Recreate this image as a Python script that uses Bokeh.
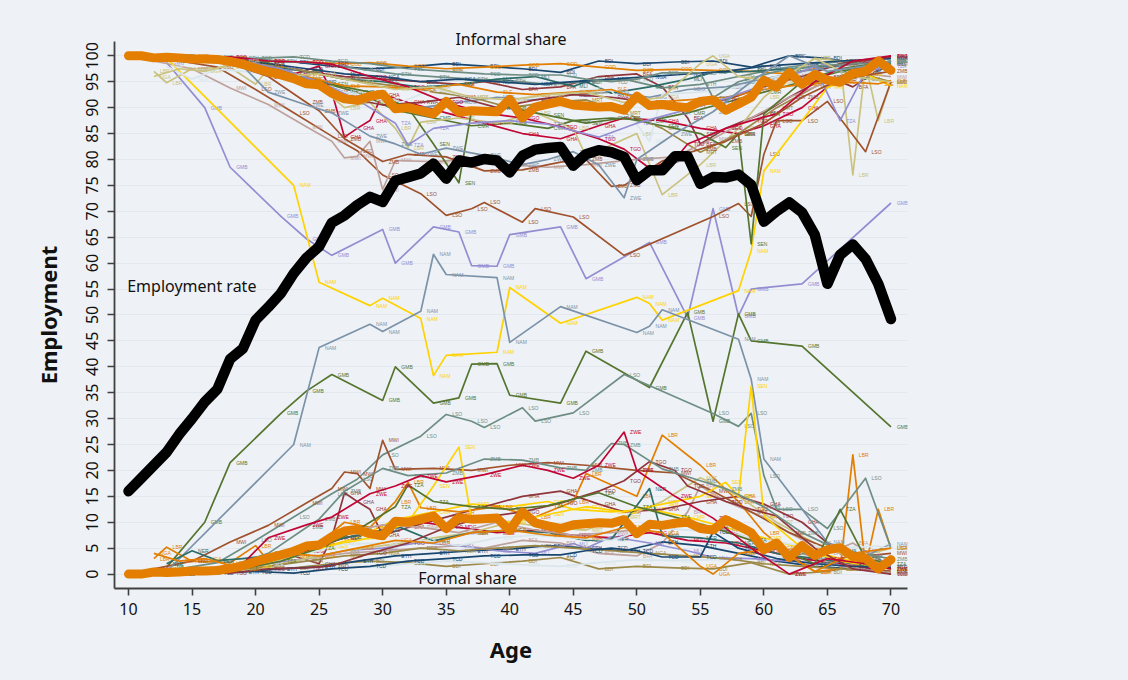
from bokeh.plotting import figure
from bokeh.models import ColumnDataSource, FixedTicker, Label
from bokeh.embed import file_html
from bokeh.resources import INLINE
from bokeh.core.properties import value

# ---------------- data ----------------
AGE = list(range(10, 71))
EMP_RATE = [16, 18.5, 21, 23.5, 27, 30, 33.2, 35.7, 41.5, 43.5, 49, 51.5, 54.2, 58, 61, 63.2,
            67.8, 69.2, 71.2, 72.8, 71.8, 75.9, 76.6, 77.3, 79.2, 76.3, 79.8, 79.4, 80.1, 79.8,
            77.5, 80.7, 81.9, 82.2, 82.4, 78.8, 81, 81.8, 81.4, 80.5, 76, 77.9, 77.9, 80.6, 80.6,
            75.3, 76.6, 76.5, 77.1, 75.1, 68, 70, 71.7, 69.8, 65.5, 56, 61.6, 63.6, 60.8, 56, 49.2]
INFORMAL_AVG = [100, 100, 99.6, 99.7, 99.6, 99.4, 99.4, 99.3, 98.9, 98.4, 97.6, 96.9, 96.3, 95.6,
                94.6, 94.4, 92.8, 91.7, 91.4, 92.2, 92.6, 89.8, 90, 89.4, 88.8, 91.2, 89.1, 89.4,
                89.3, 89.2, 91.6, 88, 90.1, 90.7, 91.2, 90.5, 90.3, 90.1, 90.2, 89.5, 92.2, 90.4,
                90.6, 90.2, 90, 91.2, 91.5, 89.5, 90.7, 92, 95.3, 94, 96.8, 94.5, 96.4, 95.3, 94.9,
                96.6, 97, 99, 97.2]

COUNTRIES = ["BDI", "BFA", "CMR", "COD", "ETH", "GHA", "GMB", "LBR", "LSO", "MDG", "MLI", "MRT",
             "MWI", "NAM", "NER", "NGA", "RWA", "SEN", "SLE", "TCD", "TGO", "TZA", "UGA", "ZMB", "ZWE"]

BDI_AGE = [14, 17, 20, 23, 26, 29, 32, 35, 38, 41, 44, 47, 50, 53, 56, 59, 62, 65, 68, 70]
BDI_INF = [100, 99.5, 99, 98.8, 98, 97.5, 97.8, 98.5, 98, 97.5, 96.8, 99, 98.5, 98.8, 99, 97.8, 100, 99.5, 98, 98.8]
BFA_AGE = [12, 15, 18, 21, 24, 27, 30, 33, 36, 38, 41, 44, 47, 50, 52, 54, 55, 57, 60, 62, 65, 67, 70]
BFA_INF = [99.5, 99.5, 99, 98.5, 97, 96, 95.5, 95, 94.5, 95, 93.5, 94, 96, 96.5, 94, 88, 83, 86, 89, 92, 96, 94, 99]
CMR_AGE = [13, 16, 19, 22, 25, 28, 31, 34, 37, 40, 43, 45, 48, 51, 54, 57, 60, 63, 66, 70]
CMR_INF = [100, 99.5, 99, 97.5, 95, 93, 89.5, 88, 86.5, 87, 86, 87.5, 88, 87.5, 89, 91, 93, 95, 97, 99]
COD_AGE = [12, 15, 18, 21, 24, 27, 29, 32, 35, 38, 41, 44, 47, 50, 53, 56, 59, 62, 65, 68, 70]
COD_INF = [100, 100, 99.5, 99, 98.8, 98.5, 98.7, 98, 97.5, 97.8, 98.2, 98.5, 97.8, 97.2, 97.4, 97.2, 97, 96.5, 98, 99, 98.5]
ETH_AGE = [10, 13, 16, 19, 22, 25, 28, 31, 34, 37, 40, 43, 46, 49, 52, 55, 58, 61, 64, 67, 70]
ETH_INF = [100, 100, 99.8, 99.5, 99, 98.6, 97.5, 96.5, 96, 95.5, 95.2, 94.5, 95, 95.5, 93.8, 94.5, 96, 97.5, 98.5, 99, 99.5]
GHA_AGE = [13, 16, 19, 21, 23, 25, 26, 27, 28, 29, 30, 32, 35, 38, 41, 44, 47, 49, 52, 55, 58, 60, 63, 66, 70]
GHA_INF = [100, 99.5, 99, 97.5, 96.5, 98, 93, 84.3, 86, 87.5, 92.5, 91, 89, 87, 85, 84, 86.5, 88, 87.5, 86, 85, 86.5, 90, 96, 100]
GMB_AGE = [13, 16, 18, 22, 24, 26, 30, 31, 34, 36, 37, 39, 40, 44, 46, 51, 54, 56, 58, 59, 63, 70]
GMB_INF = [98.7, 90, 78.5, 69, 64.7, 61.5, 66.5, 60, 67, 66, 59.5, 59.4, 65.5, 67, 57, 64, 49.5, 70.5, 49.8, 55, 56, 71.6]
LBR_AGE = [12, 13, 15, 18, 20, 21, 23, 25, 27, 29, 31, 32, 33, 36, 39, 42, 45, 46, 50, 52, 55, 58, 60, 62, 64, 66, 67, 68, 69, 70]
LBR_INF = [97, 94.8, 97.5, 97.8, 94.5, 97.5, 95.5, 94, 90, 91, 86, 82.3, 87.2, 88, 87, 89, 86, 80.6, 85, 73.2, 79, 86, 92, 96, 99.5, 99, 77, 98.5, 87.5, 95]
LSO_AGE = [14, 17, 20, 23, 26, 28, 30, 33, 35, 37, 38, 41, 42, 45, 49, 56, 58, 59, 60, 61, 63, 65, 68, 70]
LSO_INF = [99, 97.8, 93.5, 89, 84.5, 81.7, 77, 73.4, 69.2, 70.5, 71.7, 67.9, 70.5, 68.9, 61.5, 69, 71.5, 69, 81, 87.5, 87.5, 91.2, 81.5, 95]
MDG_AGE = [12, 15, 18, 21, 24, 27, 30, 33, 36, 39, 42, 45, 48, 51, 54, 57, 60, 63, 66, 70]
MDG_INF = [100, 99.5, 98.8, 97.5, 95.5, 93, 91.5, 90, 91, 92, 91.5, 92.5, 93, 92, 93.5, 94, 95.5, 97, 98, 99.5]
MLI_AGE = [12, 15, 18, 21, 24, 27, 30, 33, 36, 39, 42, 45, 46, 48, 51, 54, 56, 59, 62, 65, 68, 70]
MLI_INF = [100, 99.5, 99, 98, 97, 95.5, 95, 93.9, 94.5, 95.5, 96, 94.1, 95, 92.8, 94, 95.5, 96.8, 97, 97.5, 98, 95.5, 98.5]
MRT_AGE = [12, 15, 18, 21, 24, 27, 30, 33, 34, 37, 40, 43, 46, 49, 52, 55, 58, 61, 64, 67, 70]
MRT_INF = [99.5, 99.8, 99.6, 98.5, 97, 95.5, 94.5, 93.5, 93, 92, 90, 91, 91.5, 89, 86, 81.4, 85, 90, 94, 97, 95]
MWI_AGE = [12, 15, 18, 21, 24, 26, 27, 28, 29, 30, 31, 34, 37, 40, 43, 46, 50, 53, 56, 59, 62, 65, 68, 70]
MWI_INF = [99, 97.5, 93.8, 90.6, 86.3, 83.5, 80.3, 80.6, 83.5, 74.2, 79.8, 79.6, 80, 79, 78.5, 79, 80, 80.5, 84, 88, 92, 95, 96.5, 96]
NAM_AGE = [13, 23, 25, 29, 30, 33, 34, 35, 39, 40, 44, 50, 51, 52, 58, 59, 60, 65, 68, 70]
NAM_INF = [99.5, 75, 56.3, 51.8, 53.2, 49.3, 38.3, 42.2, 42.8, 55.3, 48.4, 53.4, 52.2, 49, 54.7, 62.4, 77.8, 93.9, 96.5, 94.2]
NER_AGE = [13, 15, 17, 19, 21, 24, 27, 30, 31, 34, 37, 40, 43, 46, 48, 51, 52, 55, 58, 61, 64, 67, 70]
NER_INF = [98, 95.5, 97.4, 97, 96.5, 95, 93, 91.5, 90.6, 93.6, 92, 91.5, 92, 93.5, 93.3, 83.5, 92.6, 93, 94, 96, 97, 98, 99]
NGA_AGE = [15, 18, 21, 24, 27, 30, 33, 36, 39, 42, 45, 48, 51, 54, 57, 60, 63, 66, 70]
NGA_INF = [99.7, 99.3, 98.5, 97.5, 96.5, 96, 95, 95.5, 95, 94.5, 95, 95.5, 96, 96.5, 97, 98, 98.5, 99, 99.5]
RWA_AGE = [12, 15, 18, 21, 24, 27, 30, 33, 36, 39, 42, 45, 48, 51, 54, 57, 60, 63, 66, 70]
RWA_INF = [100, 99.5, 99, 97, 94.5, 92, 90.5, 91, 92, 90, 91.5, 92.5, 92, 91, 90.5, 91.5, 94, 96, 98.5, 99.8]
SEN_AGE = [13, 17, 20, 23, 26, 29, 32, 34, 36, 37, 40, 43, 46, 49, 52, 55, 57, 58, 59, 60, 63, 66, 70]
SEN_INF = [100, 99.5, 98.5, 96.5, 94.5, 93, 90, 83, 75.5, 89.5, 90, 88.5, 87, 88, 86.5, 85, 82.3, 85, 63.7, 88.8, 95, 97.5, 99]
SLE_AGE = [12, 15, 18, 21, 24, 27, 30, 33, 36, 39, 42, 45, 48, 51, 54, 57, 60, 63, 66, 69, 70]
SLE_INF = [100, 99.8, 99.5, 98, 96, 94.2, 94, 93.5, 94.5, 93, 92.5, 93, 93.5, 91, 91.5, 92, 93.5, 94.5, 95, 94.6, 95.2]
TCD_AGE = [14, 17, 20, 23, 26, 29, 32, 35, 38, 41, 44, 46, 48, 50, 52, 55, 56, 58, 61, 64, 67, 70]
TCD_INF = [100, 99.8, 99.5, 99.8, 99, 98.5, 97.5, 97, 96.5, 96.3, 96.3, 95.5, 95, 95.5, 96.7, 96.7, 91.9, 95, 97, 98, 98.5, 98.7]
TGO_AGE = [12, 15, 18, 21, 24, 26, 29, 32, 35, 38, 41, 44, 47, 49, 51, 53, 54, 57, 59, 61, 64, 67, 70]
TGO_INF = [99.5, 99.5, 99.8, 99, 98.8, 98.4, 96, 94, 91, 89, 88, 86.3, 84, 82, 78.3, 80, 83, 86, 87.5, 88.8, 95, 99, 100]
TZA_AGE = [13, 16, 19, 22, 25, 28, 31, 32, 34, 37, 40, 43, 47, 50, 53, 56, 59, 62, 64, 66, 68, 70]
TZA_INF = [99.5, 99.3, 99, 97.5, 95, 91.5, 87, 82.8, 86, 87, 87.5, 86.8, 84.3, 87, 89, 91, 93.5, 96, 98, 87.5, 97, 98]
UGA_AGE = [12, 14, 16, 19, 22, 25, 28, 31, 34, 37, 40, 43, 46, 49, 52, 55, 56, 58, 61, 64, 67, 70]
UGA_INF = [96, 97.5, 97, 99, 96, 96.5, 95, 93.5, 94, 92, 91.5, 92.5, 93, 91, 92, 98.5, 100, 96, 95, 99.5, 96, 95]
ZMB_AGE = [12, 15, 18, 21, 24, 25, 27, 30, 32, 35, 38, 41, 44, 46, 48, 49, 52, 55, 57, 60, 63, 66, 70]
ZMB_INF = [99.5, 99.3, 98.5, 96, 91, 89.4, 84, 79.6, 81, 80.5, 77.8, 78, 79.5, 80, 74.8, 75, 79.7, 82, 83.5, 87, 92, 95.5, 97]
ZWE_AGE = [13, 16, 19, 21, 24, 26, 29, 31, 33, 35, 38, 41, 43, 45, 47, 49, 50, 53, 56, 59, 62, 65, 68, 70]
ZWE_INF = [99.8, 99, 98, 93, 90.5, 89, 84.5, 83, 81, 82.2, 80.8, 79, 80, 81.5, 79, 72.6, 80, 85, 89.2, 95, 100, 97, 98, 99]

SERIES = [
    (BDI_AGE, BDI_INF), (BFA_AGE, BFA_INF), (CMR_AGE, CMR_INF), (COD_AGE, COD_INF),
    (ETH_AGE, ETH_INF), (GHA_AGE, GHA_INF), (GMB_AGE, GMB_INF), (LBR_AGE, LBR_INF),
    (LSO_AGE, LSO_INF), (MDG_AGE, MDG_INF), (MLI_AGE, MLI_INF), (MRT_AGE, MRT_INF),
    (MWI_AGE, MWI_INF), (NAM_AGE, NAM_INF), (NER_AGE, NER_INF), (NGA_AGE, NGA_INF),
    (RWA_AGE, RWA_INF), (SEN_AGE, SEN_INF), (SLE_AGE, SLE_INF), (TCD_AGE, TCD_INF),
    (TGO_AGE, TGO_INF), (TZA_AGE, TZA_INF), (UGA_AGE, UGA_INF), (ZMB_AGE, ZMB_INF),
    (ZWE_AGE, ZWE_INF),
]

Y_TICKS = list(range(0, 101, 5))
X_TICKS = list(range(10, 71, 5))

# ---------------- style ----------------
PALETTE = ["#1a476f", "#90353b", "#55752f", "#e37e00", "#6e8e84", "#c10534", "#938dd2",
           "#cac27e", "#a0522d", "#7b92a8", "#2d6d66", "#9c8847", "#bfa19c", "#ffd200", "#d9e6eb"]
BG = "#eef2f6"
FONT = "Noto Sans"

p = figure(frame_width=793, frame_height=547, x_range=(8.9, 71.3), y_range=(-2.78, 102.76),
           output_backend="svg", toolbar_location=None,
           min_border_left=114, min_border_top=41, min_border_right=220, min_border_bottom=91)
p.background_fill_color = BG
p.border_fill_color = BG
p.outline_line_color = None

for i, (code, (ages, inf)) in enumerate(zip(COUNTRIES, SERIES)):
    formal = [round(100 - v, 2) for v in inf]
    for vals, col in ((inf, PALETTE[i % 15]), (formal, PALETTE[(i + 11) % 15])):
        src = ColumnDataSource(dict(x=ages, y=vals, lab=[code] * len(ages)))
        p.line("x", "y", source=src, line_color=col, line_width=1.7, line_join="round")
        p.text("x", "y", text="lab", source=src, text_color=col, text_font_size="5px",
               text_font=value("Liberation Sans"), text_baseline="middle", text_align="left",
               x_offset=6)

FORMAL_AVG = [round(100 - v, 2) for v in INFORMAL_AVG]
p.line(AGE, INFORMAL_AVG, line_color="#e37e00", line_width=9, line_cap="round", line_join="round")
p.line(AGE, FORMAL_AVG, line_color="#e37e00", line_width=9, line_cap="round", line_join="round")
p.line(AGE, EMP_RATE, line_color="#000000", line_width=10.5, line_cap="round", line_join="round")

for txt, x, y in (("Employment rate", 9.9, 55.6), ("Formal share", 32.8, -0.7)):
    p.add_layout(Label(x=x, y=y, text=txt, text_font=FONT, text_font_size="16px",
                       text_color="#111111", text_baseline="middle", text_align="left"))

p.title.text = "Informal share"
p.title.align = "center"
p.title.text_font = FONT
p.title.text_font_size = "16px"
p.title.text_font_style = "normal"
p.title.text_color = "#111111"
p.title.standoff = -16

p.xaxis.ticker = FixedTicker(ticks=X_TICKS)
p.yaxis.ticker = FixedTicker(ticks=Y_TICKS)
p.xgrid.visible = False
p.ygrid.ticker = FixedTicker(ticks=Y_TICKS)
p.ygrid.grid_line_color = "#e2e8ee"
p.ygrid.grid_line_width = 1

for ax in (p.xaxis[0], p.yaxis[0]):
    ax.axis_line_color = "#404040"
    ax.axis_line_width = 1.8
    ax.major_tick_line_color = "#404040"
    ax.major_tick_line_width = 1.6
    ax.major_tick_out = 7
    ax.major_tick_in = 0
    ax.minor_tick_line_color = None
    ax.major_label_text_font = FONT
    ax.major_label_text_font_size = "16px"
    ax.major_label_text_color = "#111111"
    ax.axis_label_text_font = FONT
    ax.axis_label_text_font_size = "22px"
    ax.axis_label_text_font_style = "bold"
    ax.axis_label_text_color = "#111111"

p.xaxis.axis_label = "Age"
p.yaxis.axis_label = "Employment"
p.yaxis.major_label_orientation = "vertical"
p.xaxis.major_label_standoff = 7
p.yaxis.major_label_standoff = 9
p.xaxis.axis_label_standoff = 16
p.yaxis.axis_label_standoff = 21

html = file_html(p, INLINE)
html = html.replace("</head>", "<style>html, body {background-color: %s;}</style></head>" % BG, 1)
open("out.html", "w").write(html)
